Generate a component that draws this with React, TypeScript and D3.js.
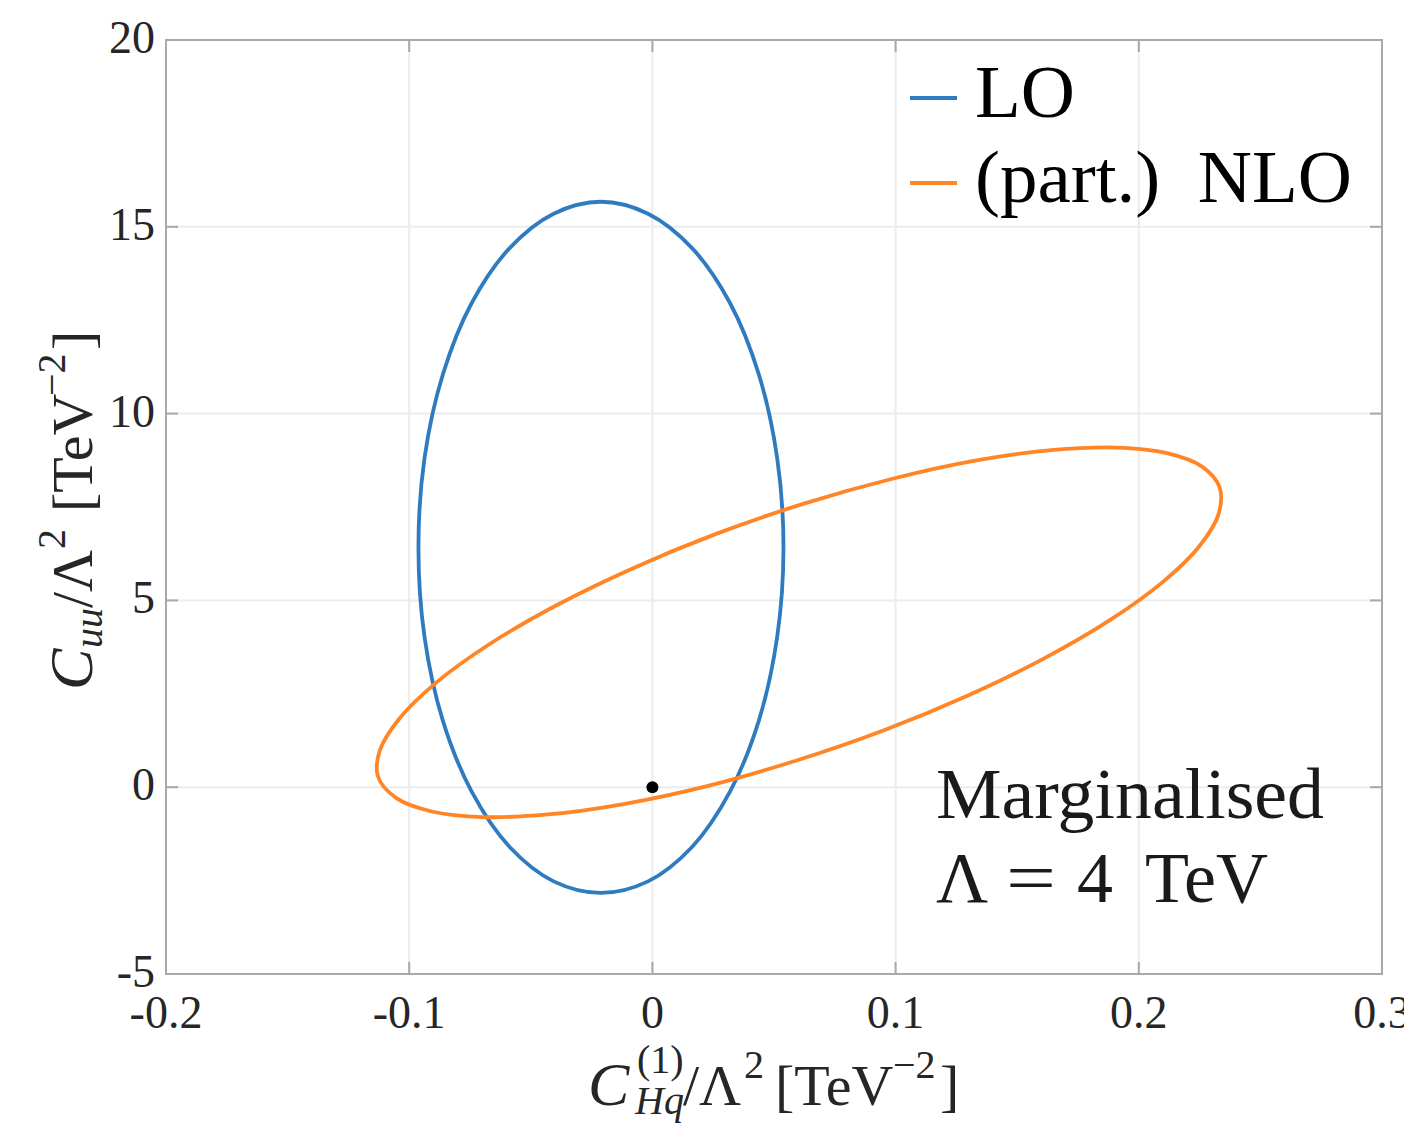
import React from 'react';
import * as d3 from 'd3';

// canvas + plot box (matches the MATLAB-style figure)
const W = 1404;
const H = 1124;
const box = { left: 166, right: 1382, top: 40, bottom: 974 };

const xTicks = [-0.2, -0.1, 0, 0.1, 0.2, 0.3];
const xTickLabels = ['-0.2', '-0.1', '0', '0.1', '0.2', '0.3'];
const yTicks = [-5, 0, 5, 10, 15, 20];
const yTickLabels = ['-5', '0', '5', '10', '15', '20'];

// LO contour (C_Hq^(1), C_uu), going round the ellipse
const loX = [
  0.0539, 0.0513, 0.0438, 0.0319, 0.0163, -0.0018, -0.0212, -0.0406, -0.0587, -0.0743, -0.0862, -0.0937,
  -0.0962, -0.0937, -0.0862, -0.0743, -0.0587, -0.0406, -0.0212, -0.0018, 0.0163, 0.0319, 0.0438, 0.0513,
];
const loY = [
  6.42, 8.81, 11.04, 12.96, 14.43, 15.35, 15.67, 15.35, 14.43, 12.96, 11.04, 8.81,
  6.42, 4.02, 1.79, -0.12, -1.6, -2.52, -2.83, -2.52, -1.6, -0.12, 1.79, 4.02,
];

// (part.) NLO contour
const nloX = [
  0.2332, 0.2328, 0.2249, 0.2098, 0.1881, 0.1609, 0.1293, 0.0947, 0.0586, 0.0225, -0.0118, -0.043,
  -0.0697, -0.0907, -0.1051, -0.1128, -0.1121, -0.104, -0.0889, -0.0672, -0.04, -0.0084, 0.0262, 0.0623,
  0.0983, 0.1327, 0.1639, 0.1906, 0.2116, 0.226,
];
const nloY = [
  8.03, 7.31, 6.45, 5.49, 4.47, 3.44, 2.44, 1.51, 0.7, 0.03, -0.45, -0.73,
  -0.8, -0.65, -0.3, 0.28, 0.98, 1.84, 2.8, 3.82, 4.85, 5.85, 6.78, 7.59,
  8.25, 8.74, 9.02, 9.09, 8.94, 8.58,
];

const smPoint = [0, 0];

const seriesNames = ['LO', '(part.)  NLO'];
const seriesColors = ['#2f7bbf', '#ff8526'];

const FONT = '"Liberation Serif", "DejaVu Serif", serif';

const App = () => {
  const x = d3.scaleLinear().domain([-0.2, 0.3]).range([box.left, box.right]);
  const y = d3.scaleLinear().domain([-5, 20]).range([box.bottom, box.top]);

  const contour = d3
    .line<[number, number]>()
    .x((d) => x(d[0]))
    .y((d) => y(d[1]))
    .curve(d3.curveCatmullRomClosed.alpha(0.5));

  const loPts = loX.map((v, i) => [v, loY[i]] as [number, number]);
  const nloPts = nloX.map((v, i) => [v, nloY[i]] as [number, number]);

  const tickLen = 12;

  return (
    <svg
      width={W}
      height={H}
      viewBox={`0 0 ${W} ${H}`}
      style={{ position: 'absolute', left: 0, top: 0, background: '#fff' }}
      fontFamily={FONT}
    >
      {/* grid */}
      <g stroke="#ececec" strokeWidth={2}>
        {xTicks.map((t) => (
          <line key={'gx' + t} x1={x(t)} x2={x(t)} y1={box.top} y2={box.bottom} />
        ))}
        {yTicks.map((t) => (
          <line key={'gy' + t} x1={box.left} x2={box.right} y1={y(t)} y2={y(t)} />
        ))}
      </g>

      {/* contours */}
      <path d={contour(loPts) || ''} fill="none" stroke={seriesColors[0]} strokeWidth={3.8} />
      <path d={contour(nloPts) || ''} fill="none" stroke={seriesColors[1]} strokeWidth={3.8} />

      {/* SM point */}
      <circle cx={x(smPoint[0])} cy={y(smPoint[1])} r={6} fill="#000" />

      {/* box + ticks on all four sides */}
      <rect
        x={box.left}
        y={box.top}
        width={box.right - box.left}
        height={box.bottom - box.top}
        fill="none"
        stroke="#a9a9a9"
        strokeWidth={2}
      />
      <g stroke="#a9a9a9" strokeWidth={2}>
        {xTicks.map((t) => (
          <g key={'tx' + t}>
            <line x1={x(t)} x2={x(t)} y1={box.bottom} y2={box.bottom - tickLen} />
            <line x1={x(t)} x2={x(t)} y1={box.top} y2={box.top + tickLen} />
          </g>
        ))}
        {yTicks.map((t) => (
          <g key={'ty' + t}>
            <line x1={box.left} x2={box.left + tickLen} y1={y(t)} y2={y(t)} />
            <line x1={box.right} x2={box.right - tickLen} y1={y(t)} y2={y(t)} />
          </g>
        ))}
      </g>

      {/* tick labels */}
      <g fill="#262626" fontSize={46}>
        {xTicks.map((t, i) => (
          <text key={'lx' + t} x={x(t)} y={1028} textAnchor="middle">
            {xTickLabels[i]}
          </text>
        ))}
        {yTicks.map((t, i) => (
          <text key={'ly' + t} x={155} y={y(t) + 13} textAnchor="end">
            {yTickLabels[i]}
          </text>
        ))}
      </g>

      {/* x axis label: C_Hq^(1)/Λ² [TeV⁻²] */}
      <text fill="#262626" fontSize={58}>
        <tspan x={588} y={1105} fontStyle="italic" fontSize={62}>C</tspan>
        <tspan x={637} y={1073} fontSize={40}>(1)</tspan>
        <tspan x={635} y={1114} fontSize={40} fontStyle="italic">Hq</tspan>
        <tspan x={683} y={1105}>/Λ</tspan>
        <tspan x={744} y={1078} fontSize={40}>2</tspan>
        <tspan x={775} y={1105}>[TeV</tspan>
        <tspan x={893} y={1078} fontSize={40}>−2</tspan>
        <tspan x={940} y={1105}>]</tspan>
      </text>

      {/* y axis label: C_uu/Λ² [TeV⁻²] */}
      <g transform="translate(92, 690) rotate(-90)">
        <text fill="#262626" fontSize={58}>
          <tspan x={0} y={0} fontStyle="italic" fontSize={62}>C</tspan>
          <tspan x={42} y={10} fontSize={40} fontStyle="italic">uu</tspan>
          <tspan x={82} y={0}>/Λ</tspan>
          <tspan x={141} y={-27} fontSize={40}>2</tspan>
          <tspan x={178} y={0}>[TeV</tspan>
          <tspan x={294} y={-27} fontSize={40}>−2</tspan>
          <tspan x={340} y={0}>]</tspan>
        </text>
      </g>

      {/* legend */}
      {seriesNames.map((name, i) => (
        <g key={name}>
          <line
            x1={910}
            x2={957}
            y1={98 + i * 85}
            y2={98 + i * 85}
            stroke={seriesColors[i]}
            strokeWidth={4}
          />
          <text
            x={975}
            y={117 + i * 85}
            fontSize={75}
            fill="#000"
            style={{ whiteSpace: 'pre' }}
          >
            {name}
          </text>
        </g>
      ))}

      {/* annotation */}
      <g fill="#1a1a1a" fontSize={72}>
        <text x={936} y={818} textLength={388} lengthAdjust="spacingAndGlyphs">
          Marginalised
        </text>
        <text y={902}>
          <tspan x={936}>Λ</tspan>
          <tspan x={1006} textLength={50} lengthAdjust="spacingAndGlyphs">=</tspan>
          <tspan x={1077}>4</tspan>
          <tspan x={1145}>TeV</tspan>
        </text>
      </g>
    </svg>
  );
};

export default App;
